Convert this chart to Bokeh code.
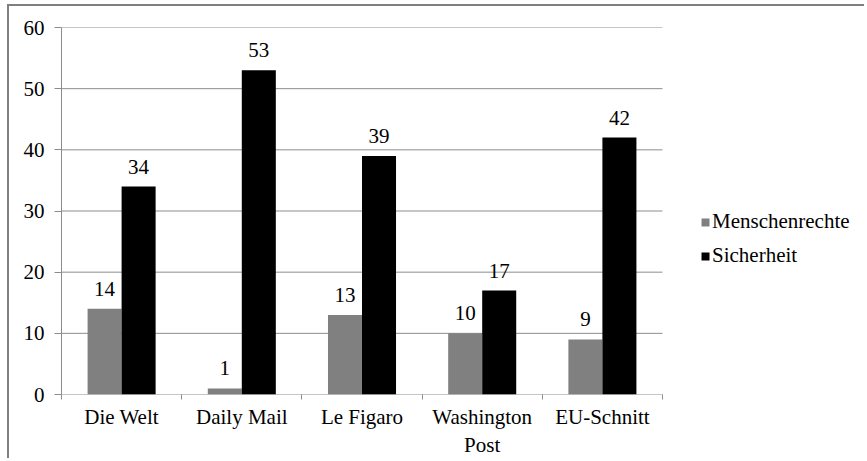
from bokeh.plotting import figure
from bokeh.models import (Range1d, FixedTicker, Legend, LegendItem, ColumnDataSource, LinearAxis)
from bokeh.embed import file_html
from bokeh.resources import INLINE
from bokeh.core.properties import value

categories = ["Die Welt", "Daily Mail", "Le Figaro", "Washington\nPost", "EU-Schnitt"]
menschenrechte = [14, 1, 13, 10, 9]
sicherheit = [34, 53, 39, 17, 42]
y_ticks = [0, 10, 20, 30, 40, 50, 60]

FONT = "Liberation Serif"
FS = "21px"
GRID = "#8c8c8c"

n = len(categories)
centers = [i + 0.5 for i in range(n)]
bw = 0.283
src = ColumnDataSource(dict(
    x1=[c - bw / 2 for c in centers],
    x2=[c + bw / 2 for c in centers],
    m=menschenrechte, s=sicherheit,
    ml=[str(v) for v in menschenrechte], sl=[str(v) for v in sicherheit],
))
grid_src = ColumnDataSource(dict(y=y_ticks, x0=[0] * len(y_ticks), x1=[n] * len(y_ticks)))

W, H = 857, 454
ML, MT, MB = 52, 21, 65
frame_w = W - ML
plot_w = 601  # pixel width of the category area
p = figure(width=W, height=H, output_backend="svg", toolbar_location=None,
           x_range=Range1d(0, n * frame_w / plot_w), y_range=Range1d(0, 60),
           x_axis_type=None, y_axis_type=None,
           min_border_left=ML, min_border_right=0, min_border_top=MT, min_border_bottom=MB)
p.outline_line_color = None
p.background_fill_color = "white"
p.border_fill_color = "white"
p.styles = {"margin-left": "7px", "margin-top": "4px",
            "border-left": "2px solid #7f7f7f", "border-top": "2px solid #7f7f7f"}

# axes
xaxis = LinearAxis(ticker=FixedTicker(ticks=centers, minor_ticks=list(range(n + 1))))
xaxis.major_label_overrides = {c: lab for c, lab in zip(centers, categories)}
xaxis.major_tick_line_color = None
xaxis.minor_tick_line_color = GRID
xaxis.minor_tick_out = 5
xaxis.minor_tick_in = 0
xaxis.axis_line_color = None
xaxis.major_label_text_font = FONT
xaxis.major_label_text_font_size = FS
xaxis.major_label_text_color = "#000000"
xaxis.major_label_standoff = 4
p.add_layout(xaxis, "below")

yaxis = LinearAxis(ticker=FixedTicker(ticks=y_ticks, minor_ticks=[]))
yaxis.major_tick_line_color = GRID
yaxis.major_tick_out = 7
yaxis.major_tick_in = 0
yaxis.axis_line_color = GRID
yaxis.major_label_text_font = FONT
yaxis.major_label_text_font_size = FS
yaxis.major_label_text_color = "#000000"
yaxis.major_label_standoff = 10
p.add_layout(yaxis, "left")

p.xgrid.visible = False
p.ygrid.visible = False
p.segment(x0="x0", x1="x1", y0="y", y1="y", source=grid_src, line_color=GRID, line_width=1)

r1 = p.vbar(x="x1", top="m", bottom=0, width=bw, source=src, fill_color="#808080", line_color=None)
r2 = p.vbar(x="x2", top="s", bottom=0, width=bw, source=src, fill_color="#000000", line_color=None)

for xcol, ycol, lcol in [("x1", "m", "ml"), ("x2", "s", "sl")]:
    p.text(x=xcol, y=ycol, text=lcol, source=src, text_align="center", text_baseline="alphabetic",
           y_offset=-20, text_font=value(FONT), text_font_size=FS, text_color="#000000")

legend = Legend(items=[LegendItem(label="Menschenrechte", renderers=[r1]),
                       LegendItem(label="Sicherheit", renderers=[r2])],
                location=(639, 126), orientation="vertical",
                glyph_width=10, glyph_height=10, label_standoff=2, spacing=9, label_height=23,
                padding=0, margin=0, border_line_color=None, background_fill_alpha=0,
                label_text_font=FONT, label_text_font_size=FS, label_text_color="#000000")
p.add_layout(legend, "center")

open("out.html", "w").write(file_html(p, INLINE))
